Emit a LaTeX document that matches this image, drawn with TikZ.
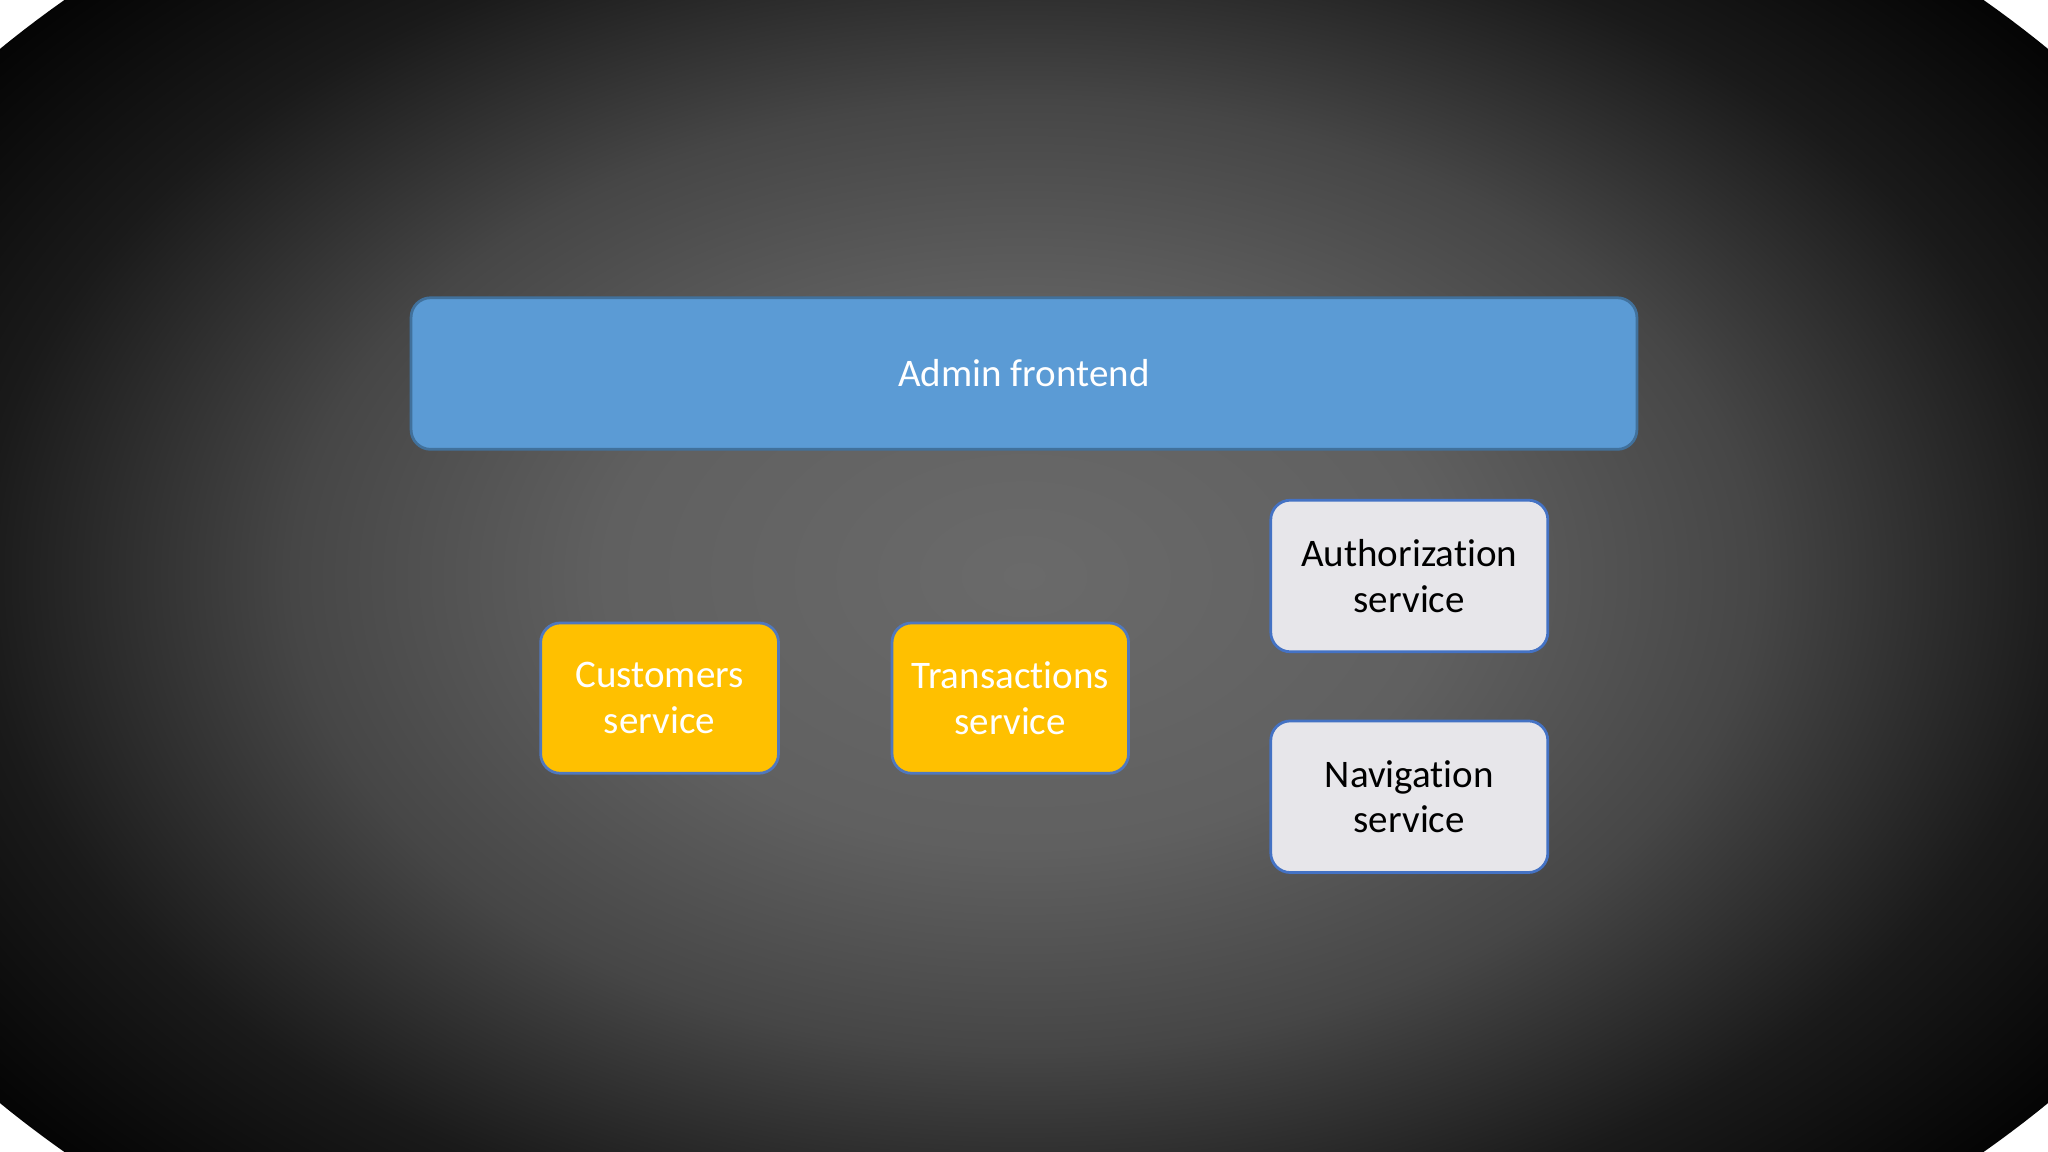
\documentclass[tikz,border=0pt]{standalone}
\usepackage{fontspec}
\setmainfont{Carlito}[RawFeature=-liga]
\pgfdeclareradialshading{bgshade}{\pgfpoint{0bp}{0bp}}{%
  color(0bp)=(rgb,255:red,106;green,106;blue,106);
  color(8bp)=(rgb,255:red,96;green,96;blue,96);
  color(14bp)=(rgb,255:red,70;green,70;blue,70);
  color(20bp)=(rgb,255:red,26;green,26;blue,26);
  color(26bp)=(black);
  color(50bp)=(black)}
\begin{document}
\begin{tikzpicture}[x=0.01cm,y=-0.01cm,
  box/.style={rounded corners=0.15cm, line width=0.6pt, align=center, font=\fontsize{8.5}{10}\selectfont},
  blue box/.style={box, fill={rgb,255:red,91;green,155;blue,213}, draw={rgb,255:red,65;green,113;blue,156}, text=white},
  yellow box/.style={box, fill={rgb,255:red,255;green,192;blue,0}, draw={rgb,255:red,80;green,120;blue,190}, text=white},
  gray box/.style={box, fill={rgb,255:red,231;green,230;blue,234}, draw={rgb,255:red,68;green,114;blue,196}, text=black}]
\useasboundingbox (0,0) rectangle (1568,882);
\clip (0,0) rectangle (1568,882);
\shade[shading=bgshade] (784,441) ellipse (1000 and 650);
\node[blue box, minimum width=9.38cm, minimum height=1.16cm] (admin) at (784,286) {Admin frontend};
\node[yellow box, minimum width=1.82cm, minimum height=1.15cm] (cust) at (505,534.5) {Customers\\service};
\node[yellow box, minimum width=1.81cm, minimum height=1.15cm] (trans) at (773.5,534.5) {Transactions\\service};
\node[gray box, minimum width=2.12cm, minimum height=1.16cm] (auth) at (1079,441) {Authorization\\service};
\node[gray box, minimum width=2.12cm, minimum height=1.16cm] (nav) at (1079,610) {Navigation\\service};
\end{tikzpicture}
\end{document}
